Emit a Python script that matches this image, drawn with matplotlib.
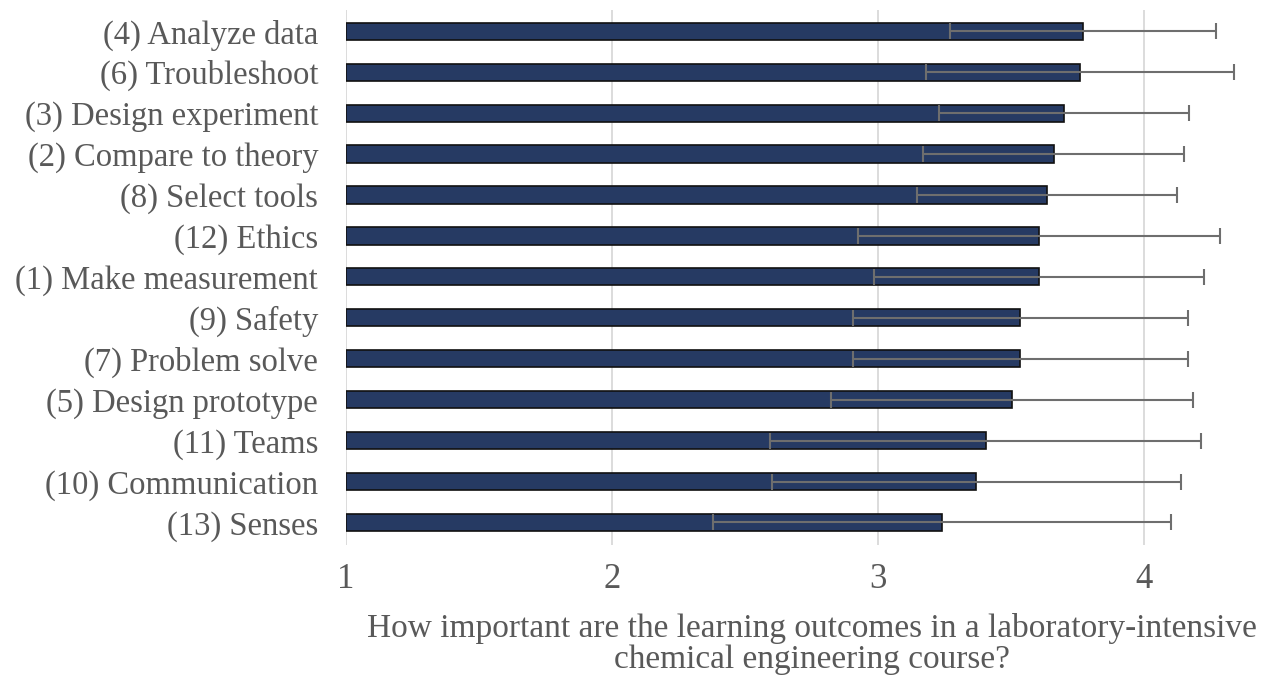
import matplotlib
matplotlib.use("Agg")
import matplotlib.pyplot as plt
import numpy as np

# Learning outcomes, top to bottom
outcomes = [
    "(4) Analyze data",
    "(6) Troubleshoot",
    "(3) Design experiment",
    "(2) Compare to theory",
    "(8) Select tools",
    "(12) Ethics",
    "(1) Make measurement",
    "(9) Safety",
    "(7) Problem solve",
    "(5) Design prototype",
    "(11) Teams",
    "(10) Communication",
    "(13) Senses",
]
mean_scores = [3.77, 3.76, 3.70, 3.66, 3.635, 3.605, 3.605, 3.535, 3.535, 3.505, 3.405, 3.37, 3.24]
std_devs = [0.50, 0.58, 0.47, 0.49, 0.49, 0.68, 0.62, 0.63, 0.63, 0.68, 0.81, 0.77, 0.86]
x_ticks = [1, 2, 3, 4]
x_title = ("How important are the learning outcomes in a laboratory-intensive\n"
           "chemical engineering course?")

W, H = 1261, 677
fig = plt.figure(figsize=(W / 100, H / 100), dpi=100)
left, right, top, bottom = 346, 1261, 10, 545
ax = fig.add_axes([left / W, 1 - bottom / H, (right - left) / W, (bottom - top) / H])

serif = ["Liberation Serif", "DejaVu Serif"]
text_color = "#595959"

y = np.arange(len(outcomes))
ax.barh(y, np.array(mean_scores) - 1, left=1, height=0.42,
        color="#263a63", edgecolor="#111111", linewidth=1.2, zorder=2)
ax.errorbar(mean_scores, y, xerr=std_devs, fmt="none", ecolor="#6e6e6e",
            elinewidth=1.5, capsize=5.5, capthick=1.5, zorder=3)

ax.set_xlim(1, 1 + (right - left) / 266)
ax.set_ylim(len(outcomes) - 0.45, -0.52)
ax.set_xticks(x_ticks)
ax.set_xticklabels([str(t) for t in x_ticks], family=serif, fontsize=25,
                   color=text_color)
ax.set_yticks(y)
ax.set_yticklabels(outcomes, family=serif, fontsize=23.5, color=text_color)
ax.tick_params(axis="both", length=0)
ax.tick_params(axis="x", pad=13)
ax.tick_params(axis="y", pad=20)

ax.grid(axis="x", color="#d9d9d9", linewidth=1.3, zorder=0)
for s in ["top", "right", "bottom", "left"]:
    ax.spines[s].set_visible(False)

fig.text(812 / W, 1 - 644 / H, x_title, ha="center", va="center",
         family=serif, fontsize=24, color=text_color, linespacing=1.0)

fig.savefig("out.png", dpi=100)
